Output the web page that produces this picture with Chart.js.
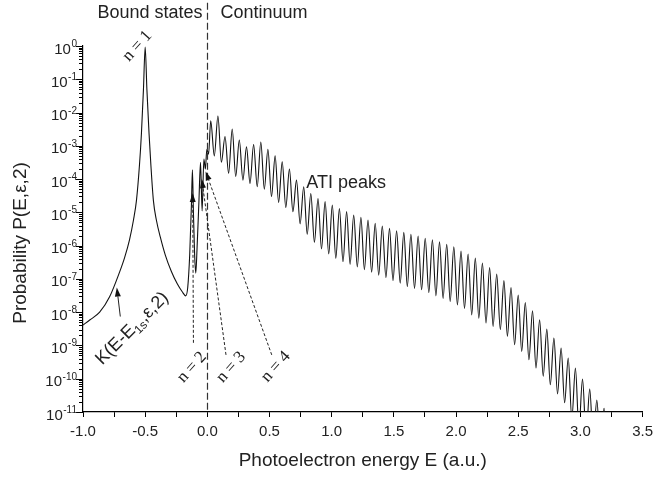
<!DOCTYPE html>
<html>
<head>
<meta charset="utf-8">
<title>Photoelectron spectrum</title>
<script src="https://cdn.jsdelivr.net/npm/chart.js@4.4.1/dist/chart.umd.min.js"></script>
<style>
  html, body { margin: 0; padding: 0; background: #fff; }
  canvas { display: block; }
</style>
</head>
<body>
<canvas id="spectrum" width="659" height="478"></canvas>
<script>
'use strict';

const xMin = -1.0;
const xMax = 3.5;
const yMin = 1e-11;
const yMax = 1;

const SANS = '"Liberation Sans", Arial, sans-serif';
const SERIF = '"Liberation Serif", "Times New Roman", serif';

// bound states part (E < 0)
const boundEnergy = [-1.0, -0.946, -0.866, -0.786, -0.706, -0.666, -0.626, -0.594, -0.57, -0.546,
    -0.53, -0.514, -0.5, -0.486, -0.469, -0.454, -0.434, -0.41, -0.378, -0.338,
    -0.29, -0.242, -0.202, -0.174, -0.158, -0.142, -0.128, -0.12, -0.112, -0.102,
    -0.093, -0.083, -0.068, -0.055, -0.042, -0.028, -0.016, -0.004, 0.01];
const boundProb = [4.1e-9, 5.8e-9, 1.0e-8, 2.9e-8, 1.6e-7, 4.3e-7, 1.5e-6, 5.9e-6, 2.3e-5, 2.6e-4,
    2.4e-3, 4.8e-2, 0.93, 4.8e-2, 2.4e-3, 2.6e-4, 2.3e-5, 5.9e-6, 1.8e-6, 5.2e-7,
    1.7e-7, 7.1e-8, 4.1e-8, 3.1e-8, 5.4e-8, 5.2e-7, 1.7e-5, 1.9e-4, 1.0e-5, 5.0e-7,
    1.5e-7, 8.0e-7, 2.0e-5, 3.2e-4, 1.1e-5, 4.0e-4, 2.0e-4, 7.9e-4, 5.6e-4];

// ATI peak maxima
const peakEnergy = [0.027, 0.085, 0.142, 0.2, 0.257, 0.315, 0.372, 0.43, 0.487, 0.545,
    0.602, 0.66, 0.717, 0.775, 0.832, 0.89, 0.947, 1.005, 1.062, 1.12,
    1.177, 1.235, 1.292, 1.35, 1.407, 1.465, 1.522, 1.58, 1.637, 1.695,
    1.752, 1.81, 1.867, 1.925, 1.982, 2.04, 2.097, 2.155, 2.212, 2.27,
    2.327, 2.385, 2.442, 2.5, 2.557, 2.615, 2.672, 2.73, 2.787, 2.845,
    2.902, 2.96, 3.017, 3.075, 3.132, 3.19];
const peakProb = [5.6e-3, 7.9e-3, 1.9e-3, 3.2e-3, 1.5e-3, 9.3e-4, 1.1e-3, 1.3e-3, 7.9e-4, 5.0e-4,
    3.3e-4, 2.0e-4, 9.3e-5, 5.9e-5, 3.7e-5, 2.6e-5, 2.1e-5, 1.66e-5, 1.3e-5, 1.05e-5,
    8.3e-6, 7.1e-6, 5.9e-6, 4.7e-6, 3.9e-6, 3.3e-6, 2.8e-6, 2.5e-6, 2.2e-6, 1.95e-6,
    1.66e-6, 1.5e-6, 1.3e-6, 1.1e-6, 9.3e-7, 6.9e-7, 5.6e-7, 4.2e-7, 3.0e-7, 2.2e-7,
    1.4e-7, 8.9e-8, 5.5e-8, 3.3e-8, 1.95e-8, 1.1e-8, 5.9e-9, 3.1e-9, 1.66e-9, 8.3e-10,
    4.2e-10, 2.1e-10, 9.8e-11, 4.9e-11, 2.3e-11, 1.3e-11];

// minima between neighbouring ATI peaks
const dipEnergy = [0.056, 0.113, 0.171, 0.228, 0.286, 0.343, 0.401, 0.458, 0.516, 0.573,
    0.631, 0.688, 0.746, 0.803, 0.861, 0.918, 0.976, 1.033, 1.091, 1.148,
    1.206, 1.263, 1.321, 1.378, 1.436, 1.493, 1.551, 1.608, 1.666, 1.723,
    1.781, 1.838, 1.896, 1.953, 2.011, 2.068, 2.126, 2.183, 2.241, 2.298,
    2.356, 2.413, 2.471, 2.528, 2.586, 2.643, 2.701, 2.758, 2.816, 2.873,
    2.931, 2.988, 3.046, 3.103, 3.161, 3.22];
const dipProb = [5.0e-4, 3.2e-4, 1.5e-4, 1.2e-4, 9.3e-5, 7.4e-5, 5.9e-5, 5.0e-5, 3.0e-5, 2.0e-5,
    1.4e-5, 1.05e-5, 4.5e-6, 2.2e-6, 1.26e-6, 7.9e-7, 5.6e-7, 4.2e-7, 3.3e-7, 2.75e-7,
    2.3e-7, 1.9e-7, 1.6e-7, 1.3e-7, 1.1e-7, 8.9e-8, 7.4e-8, 5.9e-8, 5.2e-8, 4.7e-8,
    3.9e-8, 3.1e-8, 2.6e-8, 2.1e-8, 1.66e-8, 1.3e-8, 8.3e-9, 6.6e-9, 4.7e-9, 3.7e-9,
    3.0e-9, 1.9e-9, 1.05e-9, 6.6e-10, 3.7e-10, 2.1e-10, 1.2e-10, 6.6e-11, 3.5e-11, 1.9e-11,
    6.3e-12, 3.2e-12, 2.0e-12, 1.3e-12, 8e-13, 5e-13];

// axis ticks
const yTickValues = [1, 1e-1, 1e-2, 1e-3, 1e-4, 1e-5, 1e-6, 1e-7, 1e-8, 1e-9, 1e-10, 1e-11];
const yTickPowers = ['0', '-1', '-2', '-3', '-4', '-5', '-6', '-7', '-8', '-9', '-10', '-11'];
const yMinorMantissa = [2, 3, 4, 5, 6, 7, 8, 9];
const xTickStep = 0.25;

// annotations, in data units (E, P)
const stateLabels = ['n = 1', 'n = 2', 'n = 3', 'n = 4'];
const stateLabelE = [-0.562, -0.124, 0.192, 0.552];
const stateLabelP = [1.0, 2.2e-10, 2.2e-10, 2.3e-10];

const arrowFromE = [-0.700, -0.112, 0.150, 0.518];
const arrowFromP = [7.4e-9, 1.2e-9, 5.2e-10, 5.2e-10];
const arrowToE = [-0.728, -0.118, -0.045, -0.014];
const arrowToP = [5.5e-8, 3.8e-5, 1.0e-4, 1.7e-4];
const arrowDashed = [false, true, true, true];

const kernelLabelE = -0.61, kernelLabelP = 3.4e-9;
const atiLabelE = 1.116, atiLabelP = 7.6e-5;
const regionLabelP = 10;          // "Bound states | Continuum" sits above the plot
const boundaryTopP = 20;

// merge everything into one curve sorted by energy
function buildCurve() {
    const pts = [];
    boundEnergy.forEach((e, i) => pts.push({ x: e, y: boundProb[i] }));
    peakEnergy.forEach((e, i) => pts.push({ x: e, y: peakProb[i] }));
    dipEnergy.forEach((e, i) => pts.push({ x: e, y: dipProb[i] }));
    pts.sort((a, b) => a.x - b.x);
    return pts;
}

function drawYTicks(ctx, yScale, left) {
    ctx.strokeStyle = '#000';
    ctx.lineWidth = 1;
    ctx.beginPath();
    yTickValues.forEach((v) => {
        const py = Math.round(yScale.getPixelForValue(v)) + 0.5;
        ctx.moveTo(left - 7, py);
        ctx.lineTo(left, py);
        if (v >= 1) return;
        yMinorMantissa.forEach((m) => {
            const pm = Math.round(yScale.getPixelForValue(m * v)) + 0.5;
            ctx.moveTo(left - 4, pm);
            ctx.lineTo(left, pm);
        });
    });
    ctx.stroke();

    ctx.fillStyle = '#222';
    ctx.textAlign = 'right';
    ctx.textBaseline = 'alphabetic';
    yTickValues.forEach((v, i) => {
        const py = yScale.getPixelForValue(v);
        ctx.font = '10px ' + SANS;
        const supW = ctx.measureText(yTickPowers[i]).width;
        ctx.fillText(yTickPowers[i], left - 6, py + 1);
        ctx.font = '15px ' + SANS;
        ctx.fillText('10', left - 6 - supW - 0.5, py + 7.5);
    });
}

function drawArrow(ctx, x0, y0, x1, y1, dashed) {
    const ang = Math.atan2(y1 - y0, x1 - x0);
    const headLen = 9, headW = 3;
    const bx = x1 - headLen * Math.cos(ang);
    const by = y1 - headLen * Math.sin(ang);
    ctx.setLineDash(dashed ? [3, 2] : []);
    ctx.beginPath();
    ctx.moveTo(x0, y0);
    ctx.lineTo(bx, by);
    ctx.stroke();
    ctx.setLineDash([]);
    ctx.beginPath();
    ctx.moveTo(x1, y1);
    ctx.lineTo(bx + headW * Math.sin(ang), by - headW * Math.cos(ang));
    ctx.lineTo(bx - headW * Math.sin(ang), by + headW * Math.cos(ang));
    ctx.closePath();
    ctx.fill();
}

function drawRotated(ctx, text, px, py, deg, font) {
    ctx.save();
    ctx.translate(px, py);
    ctx.rotate(deg * Math.PI / 180);
    ctx.font = font;
    ctx.textAlign = 'center';
    ctx.textBaseline = 'middle';
    ctx.fillText(text, 0, 0);
    ctx.restore();
}

// K(E-E_1s,ε,2) with the subscript
function drawKernelLabel(ctx, px, py) {
    const big = '18px ' + SANS, small = '12px ' + SANS;
    const parts = [['K(E-E', big, 6], ['1s', small, 10], [',\u03b5,2)', big, 6]];
    ctx.save();
    ctx.translate(px, py);
    ctx.rotate(-45 * Math.PI / 180);
    ctx.textAlign = 'left';
    ctx.textBaseline = 'alphabetic';
    let total = 0;
    parts.forEach((p) => { ctx.font = p[1]; p.push(ctx.measureText(p[0]).width); total += p[3]; });
    let cx = -total / 2;
    parts.forEach((p) => { ctx.font = p[1]; ctx.fillText(p[0], cx, p[2]); cx += p[3]; });
    ctx.restore();
}

const annotationPlugin = {
    id: 'annotations',
    afterDraw(chart) {
        const { ctx, chartArea } = chart;
        const xs = chart.scales.x, ys = chart.scales.y;
        ctx.save();

        drawYTicks(ctx, ys, chartArea.left);

        // E = 0 : bound states / continuum boundary
        const x0 = Math.round(xs.getPixelForValue(0)) + 0.5;
        ctx.strokeStyle = '#333';
        ctx.lineWidth = 1.2;
        ctx.setLineDash([7, 3]);
        ctx.beginPath();
        ctx.moveTo(x0, ys.getPixelForValue(boundaryTopP));
        ctx.lineTo(x0, chartArea.bottom);
        ctx.stroke();
        ctx.setLineDash([]);

        // arrows
        ctx.strokeStyle = '#222';
        ctx.fillStyle = '#111';
        ctx.lineWidth = 1;
        arrowFromE.forEach((e, i) => {
            drawArrow(ctx, xs.getPixelForValue(e), ys.getPixelForValue(arrowFromP[i]),
                xs.getPixelForValue(arrowToE[i]), ys.getPixelForValue(arrowToP[i]), arrowDashed[i]);
        });

        // texts
        ctx.fillStyle = '#222';
        stateLabels.forEach((t, i) => {
            drawRotated(ctx, t, xs.getPixelForValue(stateLabelE[i]), ys.getPixelForValue(stateLabelP[i]),
                -48, '17px ' + SERIF);
        });
        drawKernelLabel(ctx, xs.getPixelForValue(kernelLabelE), ys.getPixelForValue(kernelLabelP));

        ctx.font = '18px ' + SANS;
        ctx.textBaseline = 'middle';
        ctx.textAlign = 'center';
        ctx.fillText('ATI peaks', xs.getPixelForValue(atiLabelE), ys.getPixelForValue(atiLabelP));
        const ry = ys.getPixelForValue(regionLabelP);
        ctx.textAlign = 'right';
        ctx.fillText('Bound states', x0 - 5, ry);
        ctx.textAlign = 'left';
        ctx.fillText('Continuum', x0 + 13, ry);

        // axis titles
        ctx.font = '19px ' + SANS;
        ctx.textAlign = 'center';
        ctx.fillText('Photoelectron energy E (a.u.)', (chartArea.left + chartArea.right) / 2, 461);
        drawRotated(ctx, 'Probability P(E,\u03b5,2)', 21, (chartArea.top + chartArea.bottom) / 2 + 14,
            -90, '19px ' + SANS);

        ctx.restore();
    }
};

new Chart(document.getElementById('spectrum').getContext('2d'), {
    type: 'line',
    data: {
        datasets: [{
            data: buildCurve(),
            borderColor: '#111',
            borderWidth: 1.1,
            pointRadius: 0,
            fill: false,
            cubicInterpolationMode: 'monotone'
        }]
    },
    options: {
        responsive: false,
        animation: false,
        devicePixelRatio: 1,
        layout: { padding: { top: 46, right: 13, left: 0, bottom: 0 } },
        plugins: { legend: { display: false }, tooltip: { enabled: false } },
        scales: {
            x: {
                type: 'linear',
                min: xMin,
                max: xMax,
                afterFit: (s) => { s.height = 66; },
                ticks: {
                    stepSize: xTickStep,
                    autoSkip: false,
                    maxRotation: 0,
                    padding: 6,
                    color: '#222',
                    font: { family: SANS, size: 15 },
                    callback: (v) => (Math.abs(v * 2 - Math.round(v * 2)) < 1e-6 ? v.toFixed(1) : '')
                },
                grid: { drawOnChartArea: false, drawTicks: true, tickLength: 5, color: '#000', lineWidth: 1 },
                border: { color: '#000', width: 1.2 }
            },
            y: {
                type: 'logarithmic',
                min: yMin,
                max: yMax,
                afterFit: (s) => { s.width = 83; },
                ticks: { display: false },
                grid: { drawOnChartArea: false, drawTicks: false },
                border: { color: '#000', width: 1.2 }
            }
        }
    },
    plugins: [annotationPlugin]
});
</script>
</body>
</html>
